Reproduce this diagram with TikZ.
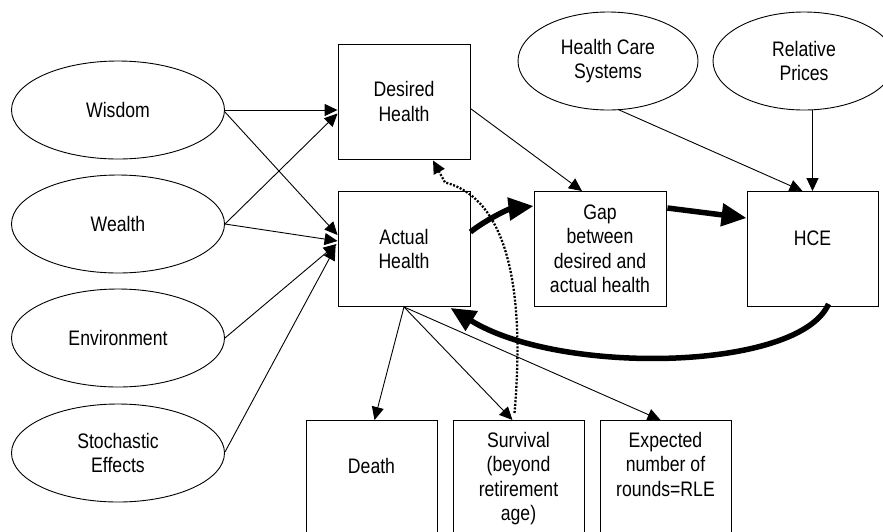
\documentclass[tikz,border=0pt]{standalone}
\usepackage{fontspec}
\setmainfont{Liberation Sans}[FakeStretch=0.84]
\usetikzlibrary{shapes.geometric,arrows.meta,calc}
\begin{document}
\begin{tikzpicture}[x=1pt,y=-1pt,
  txt/.style={align=center, font=\fontsize{21}{24.5}\selectfont, inner sep=0pt},
  ell/.style={txt, draw, line width=0.9pt, ellipse, minimum width=213pt, minimum height=98pt},
  box/.style={txt, draw, rectangle, line width=0.9pt, minimum width=132pt, minimum height=115pt},
  bbox/.style={draw, rectangle, line width=0.9pt, minimum width=131pt, minimum height=130pt, inner sep=0pt, anchor=north},
  ar/.style={line width=0.9pt, -{Triangle[length=13pt,width=12pt]}},
  tk/.style={line width=5.5pt, -{Triangle[length=25pt,width=22pt]}},
  dt/.style={line width=2.3pt, dash pattern=on 2pt off 1.6pt, -{Triangle[length=13pt,width=12pt]}}]
\clip (0,0) rectangle (883,531);
% ellipses
\node[ell] (wis) at (118,110) {Wisdom};
\node[ell] (wea) at (118,224) {Wealth};
\node[ell] (env) at (118,338) {Environment};
\node[ell] (sto) at (118,453) {Stochastic\\Effects};
\node[ell, minimum width=180pt, minimum height=98pt] (hcs) at (608,61) {Health Care\\Systems};
\node[ell, minimum width=182pt, minimum height=98pt] (rp) at (804,61) {Relative\\Prices};
% boxes
\node[box] (dh) at (404,101.5) {Desired\\Health};
\node[box] (ah) at (404,249) {Actual\\Health};
\node[box] (gap) at (600,249) {Gap\\between\\desired and\\actual health};
\node[box, minimum width=131pt] (hce) at (812.5,249) {};
\node[txt] (hcetxt) at ($(hce.center)+(0,-11)$) {HCE};
% bottom boxes
\node[bbox] (death) at (371.5,420) {};
\node[bbox] (surv) at (518.5,420) {};
\node[bbox] (expn) at (665.5,420) {};
\node[txt] (deatht) at ($(death.north)+(0,46)$) {Death};
\node[txt, anchor=north] (survt) at ($(surv.north)+(0,12)$) {Survival\\(beyond\\retirement\\age)};
\node[txt, anchor=north] (expt) at ($(expn.north)+(0,12)$) {Expected\\number of\\rounds=RLE};
% thin arrows
\draw[ar] (wis.east) -- (wis.east -| dh.west);
\draw[ar] ($(wis.east)+(0,2)$) -- ($(ah.west)+(0,-14)$);
\draw[ar] (wea.east) -- ($(dh.west)+(0,12)$);
\draw[ar] (wea.east) -- ($(ah.west)+(0,-8)$);
\draw[ar] (env.east) -- ($(ah.west)+(-1,-5)$);
\draw[ar] ($(sto.east)+(0,-1)$) -- ($(ah.west)+(-2,-2)$);
\draw[ar] ($(dh.east)+(0,7)$) -- ($(gap.north)+(-18,0)$);
\draw[ar] ($(hcs.south)+(10,-1)$) -- ($(hce.north)+(-10,0)$);
\draw[ar] (rp.south -| hce.north) -- (hce.north);
\draw[ar] (ah.south) -- ($(death.north)+(3,0)$);
\draw[ar] (ah.south) -- ($(surv.north)+(-6,0)$);
\draw[ar] (ah.south) -- ($(expn.north)+(-5,0)$);
% thick arrows
\draw[tk] ($(ah.east)+(0,-17)$) .. controls +(15,-12) and +(-25,3) .. ($(gap.west)+(0,-43)$);
\draw[tk] ($(gap.east)+(1,-41)$) -- ($(hce.west)+(0,-31)$);
\draw[tk] ($(hce.south)+(16,-3)$) .. controls +(-29,67) and +(110,68) .. ($(ah.south east)+(-20,1)$);
% dotted arrow
\coordinate (dbend) at ($(dh.south)+(41,23)$);
\draw[dt] ($(surv.north)+(-4,-7)$) .. controls +(9,-103) and +(70,18) .. (dbend) -- ($(dh.south)+(29,1)$);
\end{tikzpicture}
\end{document}
